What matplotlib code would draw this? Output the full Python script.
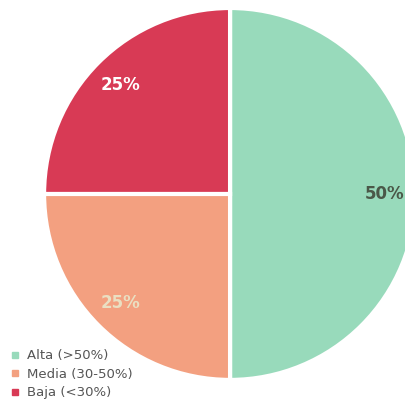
import matplotlib.pyplot as plt
from matplotlib.lines import Line2D

labels = ["Alta (>50%)", "Media (30-50%)", "Baja (<30%)"]
values = [50, 25, 25]
colors = ["#98dabb", "#f3a080", "#d83a55"]
pct_colors = ["#4a5848", "#eadfc2", "#ffffff"]

fig = plt.figure(figsize=(4.06, 4.08), dpi=100)
ax = fig.add_axes([0, 0, 1, 1])

wedges, texts, autotexts = ax.pie(
    values, colors=colors, startangle=90, counterclock=False,
    autopct="%1.0f%%", pctdistance=0.83,
    wedgeprops=dict(edgecolor="white", linewidth=3),
)
for t, c in zip(autotexts, pct_colors):
    t.set_color(c)
    t.set_fontsize(12)
    t.set_fontweight("bold")

# pie is cut off on the right side in the reference
ax.set_xlim(-1.237, 0.946)
ax.set_ylim(-1.151, 1.043)
ax.set_aspect("auto")
ax.axis("off")

handles = [Line2D([], [], marker="s", linestyle="", color=c, markersize=4) for c in colors]
leg = ax.legend(handles, labels, loc="upper left", bbox_to_anchor=(0.012, 0.16),
                frameon=False, handlelength=0.6, handletextpad=0.55,
                labelspacing=0.42, fontsize=9.5, borderpad=0)
for t in leg.get_texts():
    t.set_color("#555555")

fig.savefig("out.png", dpi=100)
